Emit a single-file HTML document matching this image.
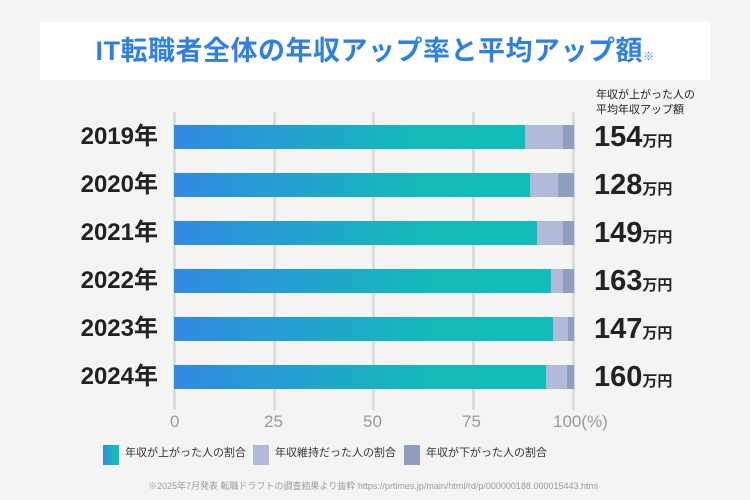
<!DOCTYPE html>
<html><head><meta charset="utf-8"><style>
body{margin:0;width:750px;height:500px;background:#f4f4f4;font-family:"Liberation Sans","Noto Sans CJK JP",sans-serif;position:relative;overflow:hidden}
.a{position:absolute}
.title{left:40px;top:22px;width:670px;height:58px;background:#fff;color:#2f80e0;font-weight:bold;font-size:27px;line-height:58px;text-align:center;letter-spacing:0.5px}
.grid{width:3px;background:#dcdcdc;top:112px;height:298px}
.yr{left:58px;width:100px;text-align:right;font-weight:bold;font-size:24px;color:#222;line-height:24px}
.bar{left:174px;height:24px}
.g{background:linear-gradient(90deg,#3189e3,#13bbb8 70%,#12bcb8)}
.l{background:#b2bad9}.d{background:#8f9dc1}
.amt{left:594px;font-weight:bold;font-size:29px;color:#222;line-height:24px}
.amt small{font-size:15px}
.tk{top:412px;font-size:17px;color:#999;line-height:20px}
.lg{top:446px;font-size:11px;color:#333;line-height:14px;white-space:nowrap}
</style></head><body>
<div class="a title">IT転職者全体の年収アップ率と平均アップ額<span style="font-size:11px">※</span></div>
<div class="a" style="left:596px;top:88px;font-size:11px;line-height:15px;color:#222">年収が上がった人の<br>平均年収アップ額</div>
<div class="a grid" style="left:173px"></div><div class="a grid" style="left:273px"></div><div class="a grid" style="left:372px"></div><div class="a grid" style="left:472px"></div><div class="a grid" style="left:572px"></div>

<div class="a yr" style="top:125px">2019年</div>
<div class="a bar g" style="top:125px;width:351px"></div><div class="a bar l" style="top:125px;left:525px;width:38px"></div><div class="a bar d" style="top:125px;left:563px;width:11px"></div>
<div class="a amt" style="top:125px">154<small>万円</small></div>

<div class="a yr" style="top:173px">2020年</div>
<div class="a bar g" style="top:173px;width:356px"></div><div class="a bar l" style="top:173px;left:530px;width:28px"></div><div class="a bar d" style="top:173px;left:558px;width:16px"></div>
<div class="a amt" style="top:173px">128<small>万円</small></div>

<div class="a yr" style="top:221px">2021年</div>
<div class="a bar g" style="top:221px;width:363px"></div><div class="a bar l" style="top:221px;left:537px;width:26px"></div><div class="a bar d" style="top:221px;left:563px;width:11px"></div>
<div class="a amt" style="top:221px">149<small>万円</small></div>

<div class="a yr" style="top:269px">2022年</div>
<div class="a bar g" style="top:269px;width:377px"></div><div class="a bar l" style="top:269px;left:551px;width:12px"></div><div class="a bar d" style="top:269px;left:563px;width:11px"></div>
<div class="a amt" style="top:269px">163<small>万円</small></div>

<div class="a yr" style="top:317px">2023年</div>
<div class="a bar g" style="top:317px;width:379px"></div><div class="a bar l" style="top:317px;left:553px;width:15px"></div><div class="a bar d" style="top:317px;left:568px;width:6px"></div>
<div class="a amt" style="top:317px">147<small>万円</small></div>

<div class="a yr" style="top:365px">2024年</div>
<div class="a bar g" style="top:365px;width:372px"></div><div class="a bar l" style="top:365px;left:546px;width:21px"></div><div class="a bar d" style="top:365px;left:567px;width:7px"></div>
<div class="a amt" style="top:365px">160<small>万円</small></div>

<div class="a tk" style="left:170px">0</div>
<div class="a tk" style="left:264px">25</div>
<div class="a tk" style="left:363px">50</div>
<div class="a tk" style="left:462px">75</div>
<div class="a tk" style="left:553px">100(%)</div>

<div class="a g" style="left:103px;top:445px;width:16px;height:20px"></div>
<div class="a lg" style="left:125px">年収が上がった人の割合</div>
<div class="a l" style="left:253px;top:445px;width:16px;height:20px"></div>
<div class="a lg" style="left:275px">年収維持だった人の割合</div>
<div class="a d" style="left:404px;top:445px;width:16px;height:20px"></div>
<div class="a lg" style="left:426px">年収が下がった人の割合</div>

<div class="a" style="left:148px;top:479px;font-size:9px;color:#999;white-space:nowrap">※2025年7月発表 転職ドラフトの調査結果より抜粋 https://prtimes.jp/main/html/rd/p/000000188.000015443.html</div>
</body></html>
